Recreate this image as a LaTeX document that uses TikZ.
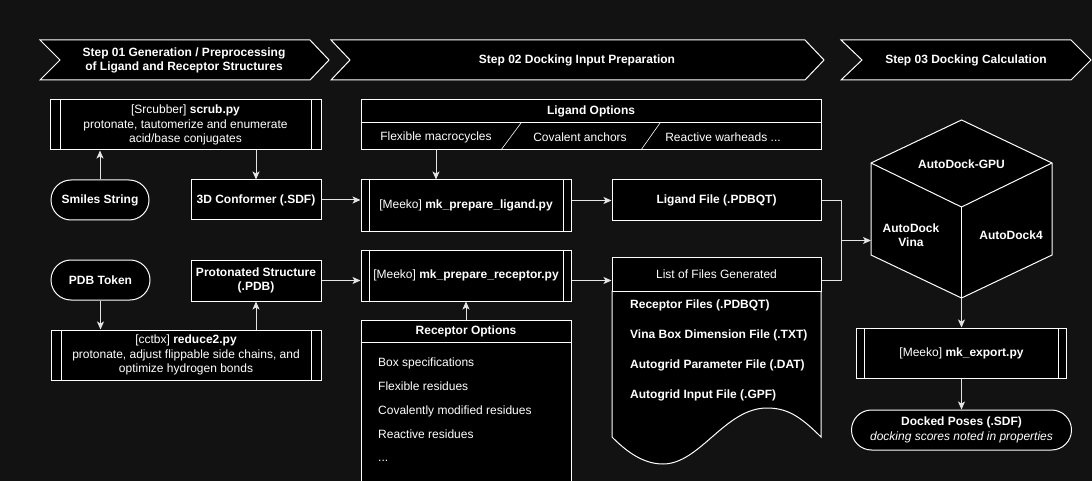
\documentclass[tikz,border=0pt]{standalone}
\usepackage{fontspec}
\setmainfont{Liberation Sans}
\usetikzlibrary{arrows.meta,calc}
\newcommand{\ftxt}{\fontsize{12}{14.5}\selectfont}
\tikzset{
  box/.style={draw=white, fill=black, text=white, line width=1pt, inner sep=2pt,
    align=center, font=\ftxt},
  procbox/.style={box, path picture={
      \draw[white, line width=1pt] ([xshift=#1]path picture bounding box.north west)
        -- ([xshift=#1]path picture bounding box.south west);
      \draw[white, line width=1pt] ([xshift=-#1]path picture bounding box.north east)
        -- ([xshift=-#1]path picture bounding box.south east);}},
  procbox/.default=8pt,
  termbox/.style={box, rounded corners=20pt},
  lbl/.style={text=white, font=\ftxt, inner sep=0pt, align=center},
  conn/.style={draw=linegray, line width=1pt},
  arr/.style={conn, -{Stealth[length=8pt,width=7pt,inset=2pt]}},
}
\begin{document}
\begin{tikzpicture}[x=1pt, y=-1pt]
  \definecolor{bg}{RGB}{18,18,18}
  \definecolor{linegray}{RGB}{228,228,228}
  \fill[bg] (0,0) rectangle (1092,481);
  \useasboundingbox (0,0) rectangle (1092,481);

  % step banners
  \draw[white, fill=black, line width=1pt] (40,40) -- (310,40) -- (329,60) -- (310,80) -- (40,80) -- (60,60) -- cycle;
  \draw[white, fill=black, line width=1pt] (331,40) -- (805,40) -- (824,60) -- (805,80) -- (331,80) -- (350,60) -- cycle;
  \draw[white, fill=black, line width=1pt] (841,40) -- (1071,40) -- (1091,60) -- (1071,80) -- (841,80) -- (862,60) -- cycle;
  \node[lbl, font=\ftxt\bfseries] (step1) at (184,60.5) {Step 01 Generation / Preprocessing\\of Ligand and Receptor Structures};
  \node[lbl, font=\ftxt\bfseries] (step2) at (577,60) {Step 02 Docking Input Preparation};
  \node[lbl, font=\ftxt\bfseries] (step3) at (966,60) {Step 03 Docking Calculation};

  % step 01
  \node[procbox=10pt, minimum width=271pt, minimum height=50pt] (scrub) at (185.5,125)
    {[Srcubber] \textbf{scrub.py}\\protonate, tautomerize and enumerate\\acid/base conjugates};
  \node[termbox, minimum width=98pt, minimum height=40pt, font=\ftxt\bfseries] (smiles) at (100,200) {Smiles String};
  \node[box, minimum width=130pt, minimum height=40pt, font=\ftxt\bfseries] (conf) at (256,200) {3D Conformer (.SDF)};
  \node[termbox, minimum width=99pt, minimum height=40pt, font=\ftxt\bfseries] (pdb) at (100.5,280) {PDB Token};
  \node[box, minimum width=130pt, minimum height=41pt, font=\ftxt\bfseries] (prot) at (256,280.5) {Protonated Structure\\(.PDB)};
  \node[procbox=10pt, minimum width=270pt, minimum height=50pt] (reduce) at (186,355)
    {[cctbx] \textbf{reduce2.py}\\protonate, adjust flippable side chains, and\\optimize hydrogen bonds};

  % step 02
  \node[box, minimum width=460pt, minimum height=50pt] (ligopt) at (591,125) {};
  \draw[white, line width=1pt] ($(ligopt.north west)+(0,23)$) -- ($(ligopt.north east)+(0,23)$);
  \draw[white, line width=0.6pt] (501,150) -- (521,123);
  \draw[white, line width=0.6pt] (641,150) -- (660,123);
  \node[lbl, font=\ftxt\bfseries] (ligopthead) at (591,111.5) {Ligand Options};
  \node[lbl] (flexmc) at (436,137) {Flexible macrocycles};
  \node[lbl] (covanc) at (580,137) {Covalent anchors};
  \node[lbl] (warhead) at (723,137) {Reactive warheads ...};

  \node[procbox, minimum width=210pt, minimum height=51pt] (ligprep) at (466,205.5) {[Meeko] \textbf{mk\_prepare\_ligand.py}};
  \node[box, minimum width=209pt, minimum height=41pt, font=\ftxt\bfseries] (ligfile) at (716.5,200.5) {Ligand File (.PDBQT)};
  \node[procbox, minimum width=210pt, minimum height=51pt] (recprep) at (466,275.5) {[Meeko] \textbf{mk\_prepare\_receptor.py}};

  \node[box, minimum width=210pt, minimum height=170pt] (recopt) at (466,405) {};
  \draw[white, line width=1pt] ($(recopt.north west)+(0,23)$) -- ($(recopt.north east)+(0,23)$);
  \node[lbl, font=\ftxt\bfseries] (recopthead) at (466,331.5) {Receptor Options};
  \foreach \txt [count=\i] in {Box specifications, Flexible residues, Covalently modified residues, Reactive residues}
    \node[lbl, anchor=base west] (recitem\i) at (378,342+24*\i) {\txt};
  \node[lbl, anchor=base west] (recitem5) at (378,461) {...};

  % list of generated files
  \draw[white, fill=black, line width=1pt] (612,291) -- (821,291) -- (821,437)
    .. controls (800,416) and (787,408) .. (767,408)
    .. controls (725,408) and (700,464) .. (663,464)
    .. controls (642,464) and (625,450) .. (612,437) -- cycle;
  \node[box, minimum width=209pt, minimum height=34pt] (listhead) at (716.5,274) {List of Files Generated};
  \foreach \txt [count=\i] in {Receptor Files (.PDBQT), Vina Box Dimension File (.TXT), Autogrid Parameter File (.DAT), Autogrid Input File (.GPF)}
    \node[lbl, anchor=west, font=\ftxt\bfseries] (listitem\i) at (630,275+30*\i) {\txt};

  % step 03
  \draw[white, fill=black, line width=1pt] (961.5,120) -- (1052,163) -- (1052,255) -- (961.5,298) -- (871,255) -- (871,163) -- cycle;
  \draw[white, line width=1pt] (871,163) -- (961.5,207) -- (1052,163);
  \draw[white, line width=1pt] (961.5,207) -- (961.5,298);
  \coordinate (cubew) at (871,240.5);
  \coordinate (cubes) at (961.5,298);
  \coordinate (merge) at (841,240.5);
  \node[lbl, font=\ftxt\bfseries] (gpu) at (961.5,164) {AutoDock-GPU};
  \node[lbl, font=\ftxt\bfseries] (vina) at (911,235) {AutoDock\\Vina};
  \node[lbl, font=\ftxt\bfseries] (ad4) at (1011,235) {AutoDock4};

  \node[procbox, minimum width=210pt, minimum height=50pt] (export) at (961.5,353) {[Meeko] \textbf{mk\_export.py}};
  \node[termbox, minimum width=220pt, minimum height=40pt] (docked) at (961.5,430)
    {\textbf{Docked Poses (.SDF)}\\\textit{docking scores noted in properties}};

  % connectors
  \draw[arr] (smiles.north) -- (smiles.north |- scrub.south);
  \draw[arr] (scrub.south -| conf.north) -- (conf.north);
  \draw[arr] (pdb.south) -- (pdb.south |- reduce.north);
  \draw[arr] (prot.south |- reduce.north) -- (prot.south);
  \draw[arr] (conf.east) -- (conf.east -| ligprep.west);
  \draw[arr] (prot.east) -- (prot.east -| recprep.west);
  \draw[arr] (flexmc.south |- ligopt.south) -- (flexmc.south |- ligprep.north);
  \draw[arr] (recopt.north) -- (recopt.north |- recprep.south);
  \draw[arr] (ligfile.west -| ligprep.east) -- (ligfile.west);
  \draw[arr] (prot.east -| recprep.east) -- (prot.east -| listhead.west);
  \draw[arr] (ligfile.east) -| (merge) -- (cubew);
  \draw[conn] (prot.east -| listhead.east) -| (merge);
  \draw[arr] (cubes) -- (export.north);
  \draw[arr] (export.south) -- (docked.north);
\end{tikzpicture}
\end{document}
